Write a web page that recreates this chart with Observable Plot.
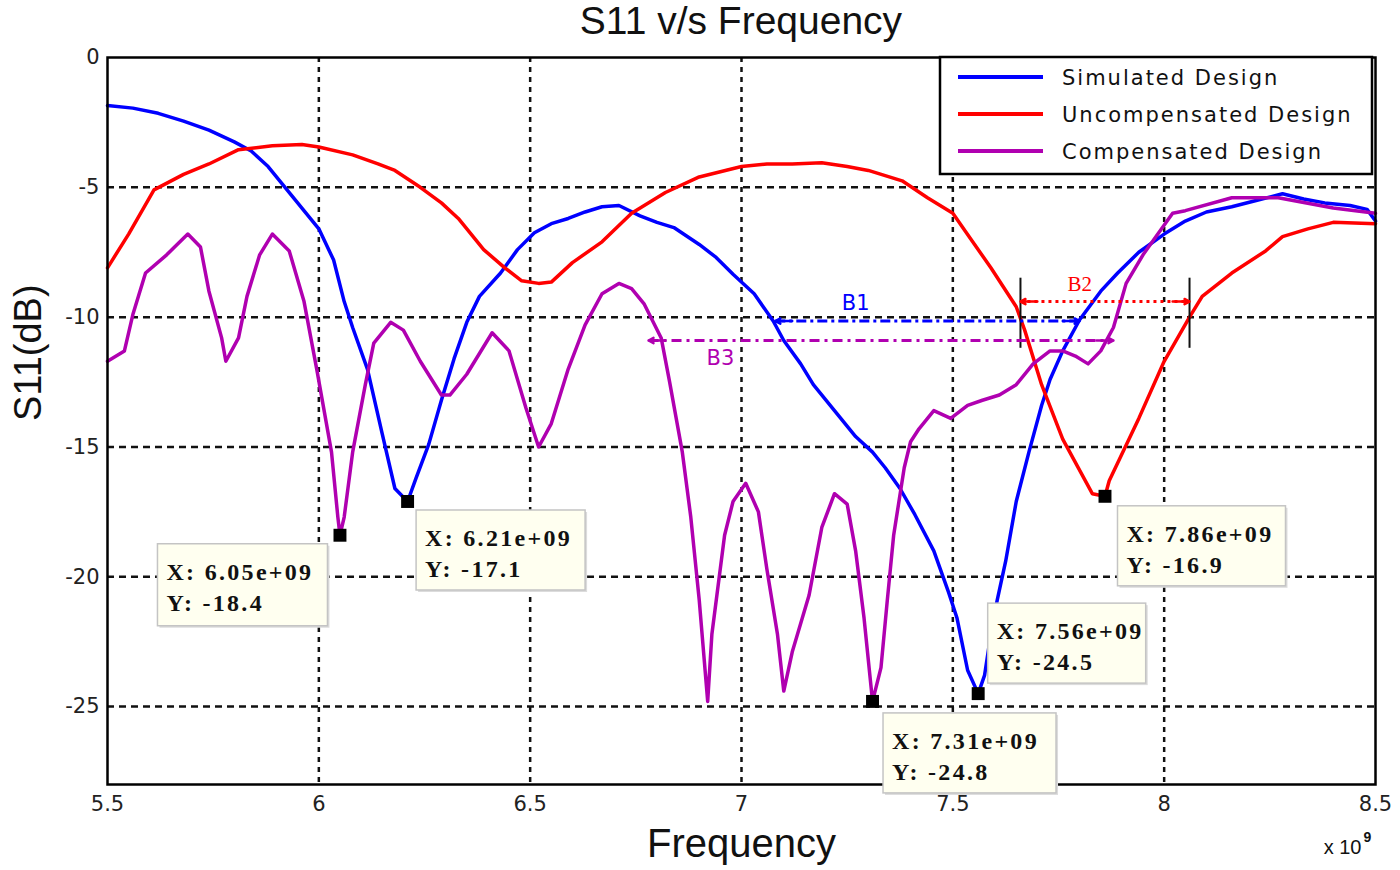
<!DOCTYPE html>
<html><head><meta charset="utf-8">
<script src="https://cdn.jsdelivr.net/npm/d3@7"></script>
<script src="https://cdn.jsdelivr.net/npm/@observablehq/plot@0.6"></script>
<style>
body{margin:0;background:#fff;}
#title{height:45px;width:1318px;padding-left:82px;text-align:center;font:39px "Liberation Sans",Arial,sans-serif;line-height:42px;color:#111;white-space:nowrap;}
#chart svg{display:block;}
</style></head><body>
<div id="title">S11 v/s Frequency</div>
<div id="chart"></div>
<script>
// ---- data (frequency in GHz, S11 in dB) ----
const simFreq = [5.50,5.56,5.62,5.68,5.74,5.80,5.84,5.88,5.92,5.96,6.00,6.035,6.06,6.08,6.115,6.15,6.18,6.21,6.23,6.26,6.29,6.32,6.35,6.38,6.43,6.47,6.51,6.55,6.59,6.63,6.67,6.71,6.76,6.80,6.84,6.90,6.94,6.98,7.03,7.075,7.10,7.14,7.17,7.22,7.27,7.31,7.34,7.375,7.41,7.455,7.49,7.51,7.535,7.56,7.575,7.59,7.605,7.625,7.65,7.68,7.71,7.73,7.76,7.80,7.85,7.89,7.94,8.00,8.05,8.10,8.16,8.22,8.28,8.33,8.38,8.44,8.48,8.50];
const simS11 = [-1.85,-1.95,-2.15,-2.45,-2.8,-3.25,-3.6,-4.2,-5.0,-5.8,-6.6,-7.8,-9.4,-10.4,-12.0,-14.5,-16.6,-17.1,-16.2,-14.9,-13.2,-11.6,-10.2,-9.2,-8.3,-7.4,-6.75,-6.4,-6.2,-5.95,-5.75,-5.7,-6.1,-6.35,-6.55,-7.2,-7.7,-8.35,-9.1,-10.15,-10.9,-11.8,-12.6,-13.6,-14.6,-15.2,-15.8,-16.6,-17.6,-19.0,-20.6,-21.6,-23.6,-24.5,-23.8,-22.2,-20.9,-19.4,-17.1,-15.2,-13.4,-12.4,-11.3,-10.1,-9.0,-8.3,-7.5,-6.8,-6.3,-5.95,-5.75,-5.5,-5.25,-5.45,-5.6,-5.7,-5.85,-6.3];

const uncFreq = [5.50,5.55,5.61,5.68,5.74,5.81,5.89,5.96,6.00,6.08,6.14,6.18,6.24,6.29,6.33,6.39,6.44,6.48,6.52,6.55,6.60,6.67,6.74,6.82,6.90,7.00,7.06,7.12,7.19,7.25,7.30,7.38,7.44,7.50,7.53,7.59,7.65,7.67,7.71,7.76,7.83,7.86,7.87,7.94,8.00,8.06,8.09,8.16,8.24,8.28,8.34,8.40,8.50];
const uncS11 = [-8.1,-6.8,-5.1,-4.5,-4.1,-3.55,-3.4,-3.35,-3.45,-3.75,-4.1,-4.35,-5.0,-5.6,-6.2,-7.4,-8.1,-8.6,-8.7,-8.65,-7.9,-7.1,-6.0,-5.2,-4.6,-4.2,-4.1,-4.1,-4.05,-4.2,-4.35,-4.75,-5.4,-6.0,-6.7,-8.1,-9.6,-10.5,-12.6,-14.7,-16.8,-16.9,-16.3,-13.9,-11.7,-10.0,-9.2,-8.3,-7.45,-6.9,-6.6,-6.35,-6.4];

const cmpFreq = [5.50,5.54,5.56,5.59,5.64,5.69,5.72,5.74,5.77,5.78,5.81,5.83,5.86,5.89,5.93,5.965,5.995,6.03,6.045,6.05,6.06,6.08,6.11,6.13,6.17,6.20,6.24,6.29,6.31,6.35,6.41,6.45,6.49,6.52,6.55,6.59,6.63,6.67,6.71,6.74,6.77,6.81,6.83,6.86,6.88,6.90,6.92,6.93,6.96,6.98,7.01,7.04,7.06,7.085,7.10,7.12,7.16,7.19,7.22,7.25,7.27,7.29,7.31,7.33,7.345,7.36,7.385,7.40,7.42,7.455,7.495,7.535,7.57,7.61,7.65,7.69,7.73,7.76,7.79,7.82,7.85,7.88,7.91,7.95,7.985,8.02,8.05,8.16,8.27,8.40,8.50];
const cmpS11 = [-11.7,-11.3,-9.9,-8.3,-7.6,-6.8,-7.3,-9.0,-10.8,-11.7,-10.8,-9.2,-7.6,-6.8,-7.45,-9.4,-12.0,-15.2,-17.7,-18.4,-17.7,-15.2,-12.6,-11.0,-10.2,-10.5,-11.7,-13.0,-13.0,-12.2,-10.6,-11.3,-13.5,-15.0,-14.1,-12.0,-10.3,-9.1,-8.7,-8.9,-9.5,-10.8,-12.5,-15.2,-17.7,-20.9,-24.8,-22.2,-18.4,-17.1,-16.4,-17.5,-19.7,-22.2,-24.4,-22.9,-20.7,-18.1,-16.8,-17.2,-19.0,-21.6,-24.8,-23.5,-20.9,-18.4,-15.8,-14.8,-14.3,-13.6,-13.9,-13.4,-13.2,-13.0,-12.6,-11.8,-11.3,-11.3,-11.5,-11.8,-11.3,-10.4,-8.7,-7.6,-6.8,-6.0,-5.9,-5.4,-5.4,-5.8,-6.0];

const seriesNames = ["Simulated Design","Uncompensated Design","Compensated Design"];
const seriesColors = ["#0000ff","#ff0000","#b000b0"];

// data tips
const tipX = [6.05, 6.21, 7.31, 7.56, 7.86];
const tipY = [-18.4, -17.1, -24.8, -24.5, -16.9];

// bandwidth annotations
const bandNames = ["B1","B2","B3"];
const bandStart = [7.08, 7.66, 6.78];
const bandEnd = [7.80, 8.06, 7.88];
const bandLevel = [-10.15, -9.4, -10.9];
const bandLabelX = [7.27, 7.80, 6.95];
const bandLabelY = [-9.45, -8.75, -11.6];
const b2EdgeTop = -8.5, b2EdgeBottom = -11.2;

const xTicks = [5.5,6,6.5,7,7.5,8,8.5];
const yTicks = [0,-5,-10,-15,-20,-25];

// ---- styles / layout (not data) ----
const tipBox = [[-182,9,170,82],[9,9,169,80],[11,12,173,80],[10,-90,158,80],[13,10,168,80]];
const bandColors = ["#0000ff","#ff0000","#b000b0"];
const bandDash = ["10,4,3,4","3,4","10,5,3,5"];
const bandFont = ["DejaVu Sans","Liberation Serif","DejaVu Sans"];

const toRows = (fx, fy, s) => fx.map((f,i)=>({f, v: fy[i], s}));
const lines = [
  toRows(simFreq, simS11, 0),
  toRows(uncFreq, uncS11, 1),
  toRows(cmpFreq, cmpS11, 2)
];
const bands = bandNames.map((n,i)=>({n, a: bandStart[i], b: bandEnd[i], y: bandLevel[i], lx: bandLabelX[i], ly: bandLabelY[i], c: bandColors[i], d: bandDash[i], font: bandFont[i]}));
const tips = tipX.map((x,i)=>({x, y: tipY[i]}));

const tipMark = (index, scales) => {
  const g = d3.create("svg:g").attr("text-anchor","start");
  tips.forEach((t,i)=>{
    const px = scales.x(t.x), py = scales.y(t.y);
    const [dx,dy,w,h] = tipBox[i];
    g.append("rect").attr("x",px+dx+2).attr("y",py+dy+2).attr("width",w).attr("height",h).attr("fill","#dcdcdc");
    g.append("rect").attr("x",px+dx).attr("y",py+dy).attr("width",w).attr("height",h).attr("fill","#fffff0").attr("stroke","#c4c4c4").attr("stroke-width",1.5);
    const tx = g.append("text").attr("text-anchor","start").attr("font-family","Liberation Serif, serif").attr("font-size",24).attr("font-weight","bold").attr("letter-spacing","2.3px").attr("fill","#111");
    tx.append("tspan").attr("x",px+dx+9).attr("y",py+dy+36).text(`X: ${t.x.toFixed(2)}e+09`);
    tx.append("tspan").attr("x",px+dx+9).attr("y",py+dy+67).text(`Y: ${t.y}`);
  });
  return g.node();
};

const legendMark = (index, scales, values, dims) => {
  const g = d3.create("svg:g").attr("text-anchor","start");
  const x0 = dims.width - dims.marginRight - 435, y0 = dims.marginTop;
  g.append("rect").attr("x",x0).attr("y",y0).attr("width",432).attr("height",117).attr("fill","white").attr("stroke","black").attr("stroke-width",2.5);
  seriesNames.forEach((n,i)=>{
    const yy = y0 + 20 + i*37;
    g.append("line").attr("x1",x0+18).attr("x2",x0+103).attr("y1",yy).attr("y2",yy).attr("stroke",seriesColors[i]).attr("stroke-width",4);
    g.append("text").attr("text-anchor","start").attr("x",x0+122).attr("y",yy).attr("dy","0.36em").attr("font-family","DejaVu Sans, sans-serif").attr("font-size",21).attr("letter-spacing","2px").attr("fill","#111").text(n);
  });
  return g.node();
};

const chart = Plot.plot({
  width: 1400,
  height: 825,
  marginTop: 12,
  marginLeft: 107,
  marginRight: 25,
  marginBottom: 86,
  style: {fontFamily: "DejaVu Sans, sans-serif", fontSize: "21px", color: "#222", background: "white"},
  x: {domain: [5.5, 8.5], ticks: xTicks, tickSize: 0, tickPadding: 12, tickFormat: d => String(d), label: null},
  y: {domain: [-28, 0], ticks: yTicks, tickSize: 0, tickPadding: 8, tickFormat: d => String(d), label: null},
  marks: [
    Plot.ruleX(xTicks.slice(1,-1), {stroke: "#111", strokeWidth: 2.5, strokeDasharray: "5,5"}),
    Plot.ruleY(yTicks.slice(1), {stroke: "#111", strokeWidth: 2.5, strokeDasharray: "7,5"}),
    ...lines.map((rows,i)=>Plot.line(rows, {x: "f", y: "v", stroke: seriesColors[i], strokeWidth: 3.5})),
    // bandwidth annotations
    Plot.ruleX([bandStart[1], bandEnd[1]], {y1: b2EdgeTop, y2: b2EdgeBottom, stroke: "#111", strokeWidth: 2}),
    ...bands.map(b => Plot.link([b], {x1: "a", x2: "b", y1: "y", y2: "y", stroke: "c", strokeWidth: 3, strokeDasharray: b.d})),
    Plot.arrow(bands, {x1: d => d.a + 0.04, x2: "a", y1: "y", y2: "y", stroke: "c", strokeWidth: 2.5, headLength: 15, headAngle: 55}),
    Plot.arrow(bands, {x1: d => d.b - 0.04, x2: "b", y1: "y", y2: "y", stroke: "c", strokeWidth: 2.5, headLength: 15, headAngle: 55}),
    ...bands.map(b => Plot.text([b], {x: "lx", y: "ly", text: "n", fill: "c", fontSize: 21, fontFamily: b.font, letterSpacing: "2px"})),
    Plot.frame({stroke: "black", strokeWidth: 2.5}),
    tipMark,
    Plot.dot(tips, {x: "x", y: "y", symbol: "square", fill: "black", r: 7.3}),
    legendMark,
    Plot.text(["S11(dB)"], {frameAnchor: "left", rotate: -90, dx: -79, fontSize: 38, fontFamily: "Liberation Sans, Arial, sans-serif", fill: "#111"}),
    Plot.text(["Frequency"], {frameAnchor: "bottom", dy: 72, fontSize: 40, fontFamily: "Liberation Sans, Arial, sans-serif", fill: "#111"}),
    Plot.text(["x 10"], {frameAnchor: "bottom-right", textAnchor: "end", dx: -14, dy: 69, fontSize: 20, fontFamily: "Liberation Sans, Arial, sans-serif", fill: "#111"}),
    Plot.text(["9"], {frameAnchor: "bottom-right", textAnchor: "start", dx: -12, dy: 57, fontSize: 14, fontFamily: "Liberation Sans, Arial, sans-serif", fontWeight: "bold", fill: "#111"})
  ]
});
document.getElementById("chart").appendChild(chart);
</script>
</body></html>
